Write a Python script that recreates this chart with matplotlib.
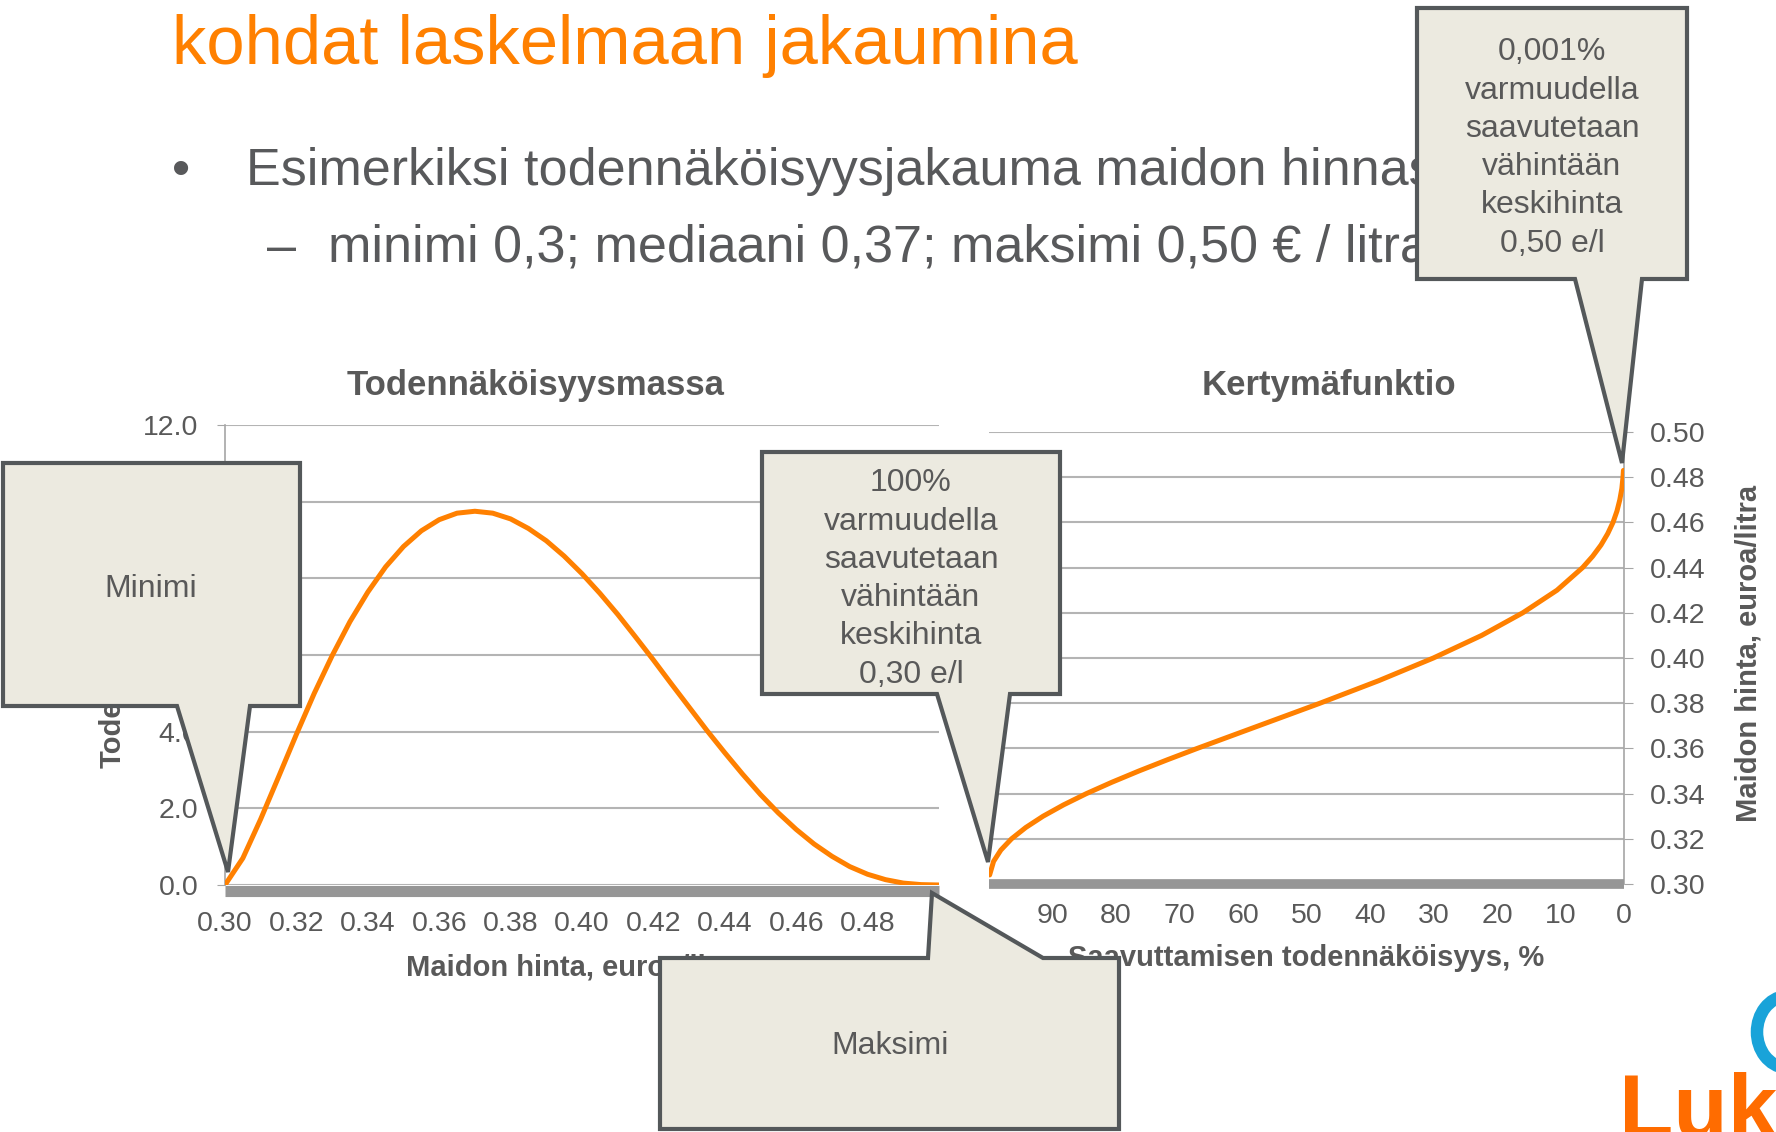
import matplotlib.pyplot as plt
from matplotlib.patches import Polygon, Arc
from matplotlib.transforms import IdentityTransform

plt.rcParams['font.family'] = ['Liberation Sans', 'DejaVu Sans']

W, H = 1776, 1132

# left chart: probability density of the milk price
price_x = [0.300, 0.305, 0.310, 0.315, 0.320, 0.325, 0.330, 0.335, 0.340, 0.345,
           0.350, 0.355, 0.360, 0.365, 0.370, 0.375, 0.380, 0.385, 0.390, 0.395,
           0.400, 0.405, 0.410, 0.415, 0.420, 0.425, 0.430, 0.435, 0.440, 0.445,
           0.450, 0.455, 0.460, 0.465, 0.470, 0.475, 0.480, 0.485, 0.490, 0.495, 0.500]
density = [0.0, 0.70, 1.72, 2.82, 3.93, 5.00, 5.98, 6.87, 7.64, 8.30,
           8.83, 9.24, 9.53, 9.70, 9.75, 9.70, 9.55, 9.30, 8.98, 8.58,
           8.12, 7.61, 7.06, 6.47, 5.87, 5.25, 4.64, 4.03, 3.45, 2.89,
           2.36, 1.88, 1.45, 1.07, 0.75, 0.48, 0.28, 0.14, 0.05, 0.01, 0.0]

# right chart: probability (%) of reaching at least the price
reach_pct = [99.9, 99.28, 98.14, 96.45, 94.21, 91.48, 88.27, 84.66, 80.67, 76.40,
             71.88, 67.20, 57.54, 47.87, 38.59, 30.02, 22.41, 15.94, 10.55, 6.52,
             4.94, 3.62, 2.57, 1.73, 1.11, 0.66, 0.34, 0.16, 0.09]
reach_price = [0.304, 0.310, 0.315, 0.320, 0.325, 0.330, 0.335, 0.340, 0.345, 0.350,
               0.355, 0.360, 0.370, 0.380, 0.390, 0.400, 0.410, 0.420, 0.430, 0.440,
               0.445, 0.450, 0.455, 0.460, 0.465, 0.470, 0.475, 0.480, 0.483]

left_xticks = [0.30, 0.32, 0.34, 0.36, 0.38, 0.40, 0.42, 0.44, 0.46, 0.48]
left_yticks = [0, 2, 4, 6, 8, 10, 12]
right_xticks = [90, 80, 70, 60, 50, 40, 30, 20, 10, 0]
right_yticks = [0.30, 0.32, 0.34, 0.36, 0.38, 0.40, 0.42, 0.44, 0.46, 0.48, 0.50]

orange = '#FF8000'
dark = '#595959'
grid_c = '#B4B4B4'
bar_c = '#969696'
box_fill = '#ECEAE0'
box_edge = '#54585A'
body_c = '#58595B'


def px(x, y):
    # slide pixel (from top left) -> figure fraction
    return x / W, 1 - y / H


fig = plt.figure(figsize=(W / 100, H / 100), dpi=100)

# slide text
fig.text(*px(172, 64), 'kohdat laskelmaan jakaumina', fontsize=49.5, color=orange,
         va='baseline', zorder=2)
fig.text(*px(172, 185), '\u2022', fontsize=37.5, color=body_c, va='baseline', zorder=2)
fig.text(*px(246, 185), 'Esimerkiksi todennäköisyysjakauma maidon hinnasta',
         fontsize=37.5, color=body_c, va='baseline', zorder=2)
fig.text(*px(267, 262), '\u2013', fontsize=37.5, color=body_c, va='baseline', zorder=2)
fig.text(*px(328, 262), 'minimi 0,3; mediaani 0,37; maksimi 0,50 \u20ac / litra',
         fontsize=37.5, color=body_c, va='baseline', zorder=2)

# left chart
ax1 = fig.add_axes([225 / W, 1 - 885 / H, 714 / W, 460 / H])
ax1.plot(price_x, density, color=orange, lw=3.6, solid_capstyle='round',
         solid_joinstyle='round', zorder=3)
ax1.set_xlim(0.30, 0.50)
ax1.set_ylim(0, 12)
ax1.set_xticks(left_xticks)
ax1.set_xticklabels(['%.2f' % v for v in left_xticks])
ax1.set_yticks(left_yticks)
ax1.set_yticklabels(['%.1f' % v for v in left_yticks])
ax1.grid(axis='y', color=grid_c, lw=1.5)
ax1.set_axisbelow(True)
for s in ['top', 'right']:
    ax1.spines[s].set_visible(False)
ax1.spines['left'].set_color('#A6A6A6')
ax1.spines['left'].set_linewidth(1.2)
ax1.spines['bottom'].set_color(bar_c)
ax1.spines['bottom'].set_linewidth(8)
ax1.spines['bottom'].set_capstyle('butt')
ax1.spines['bottom'].set_position(('outward', 4))
ax1.tick_params(axis='x', length=0, pad=15, labelsize=20.5, labelcolor=dark)
ax1.tick_params(axis='y', length=6, color='#A6A6A6', pad=13, labelsize=20.5, labelcolor=dark)
ax1.set_ylabel('Todennäköisyys', fontsize=21, fontweight='bold', color=dark, labelpad=12)

# right chart
ax2 = fig.add_axes([989 / W, 1 - 884 / H, 635 / W, 452 / H])
ax2.plot(reach_pct, reach_price, color=orange, lw=3.6, solid_capstyle='round',
         solid_joinstyle='round', zorder=3)
ax2.set_xlim(100, 0)
ax2.set_ylim(0.30, 0.50)
ax2.set_xticks(right_xticks)
ax2.set_xticklabels([str(v) for v in right_xticks])
ax2.set_yticks(right_yticks)
ax2.set_yticklabels(['%.2f' % v for v in right_yticks])
ax2.yaxis.tick_right()
ax2.grid(axis='y', color=grid_c, lw=1.5)
ax2.set_axisbelow(True)
for s in ['top', 'left']:
    ax2.spines[s].set_visible(False)
ax2.spines['right'].set_color('#A6A6A6')
ax2.spines['right'].set_linewidth(1.2)
ax2.spines['bottom'].set_color(bar_c)
ax2.spines['bottom'].set_linewidth(7)
ax2.spines['bottom'].set_capstyle('butt')
ax2.tick_params(axis='x', length=0, pad=14, labelsize=20.5, labelcolor=dark)
ax2.tick_params(axis='y', length=6.5, color='#A6A6A6', pad=12, labelsize=20.5, labelcolor=dark)

# chart titles and axis labels
fig.text(*px(536, 385), 'Todennäköisyysmassa', fontsize=25, fontweight='bold',
         color=dark, ha='center', va='center')
fig.text(*px(1329, 385), 'Kertymäfunktio', fontsize=25, fontweight='bold',
         color=dark, ha='center', va='center')
fig.text(*px(575, 967), 'Maidon hinta, euroa/litra', fontsize=21, fontweight='bold',
         color=dark, ha='center', va='center')
fig.text(*px(1306, 958), 'Saavuttamisen todennäköisyys, %', fontsize=21, fontweight='bold',
         color=dark, ha='center', va='center')
fig.text(*px(1748, 653), 'Maidon hinta, euroa/litra', fontsize=21, fontweight='bold',
         color=dark, ha='center', va='center', rotation=90)

# callouts (slide pixel outlines)
callouts = [
    ([(3, 463), (300, 463), (300, 706), (250, 706), (228, 872), (177, 706), (3, 706)],
     (151, 589), 'Minimi'),
    ([(762, 452), (1060, 452), (1060, 694), (1010, 694), (988, 862), (937, 694), (762, 694)],
     (911, 579), '100%\nvarmuudella\nsaavutetaan\nvähintään\nkeskihinta\n0,30 e/l'),
    ([(1417, 8), (1687, 8), (1687, 279), (1642, 279), (1622, 463), (1575, 279), (1417, 279)],
     (1552, 148), '0,001%\nvarmuudella\nsaavutetaan\nvähintään\nkeskihinta\n0,50 e/l'),
    ([(660, 958), (928, 958), (932, 893), (1043, 958), (1119, 958), (1119, 1129), (660, 1129)],
     (890, 1046), 'Maksimi'),
]
for outline, centre, label in callouts:
    fig.add_artist(Polygon([px(x, y) for x, y in outline], closed=True,
                           transform=fig.transFigure, facecolor=box_fill,
                           edgecolor=box_edge, lw=3, joinstyle='miter', zorder=5))
    fig.text(*px(*centre), label, fontsize=23, color=dark, ha='center', va='center',
             linespacing=1.36, zorder=6)

# logo corner
fig.text(*px(1619, 1137), 'Luke', fontsize=64, fontweight='bold', color='#FF6C00',
         va='baseline', zorder=2)
fig.add_artist(Arc((1788, H - 1032), 62, 72, theta1=95, theta2=265, lw=9,
                   color='#19A3D9', transform=IdentityTransform(), zorder=2))

fig.savefig('out.png', dpi=100)
